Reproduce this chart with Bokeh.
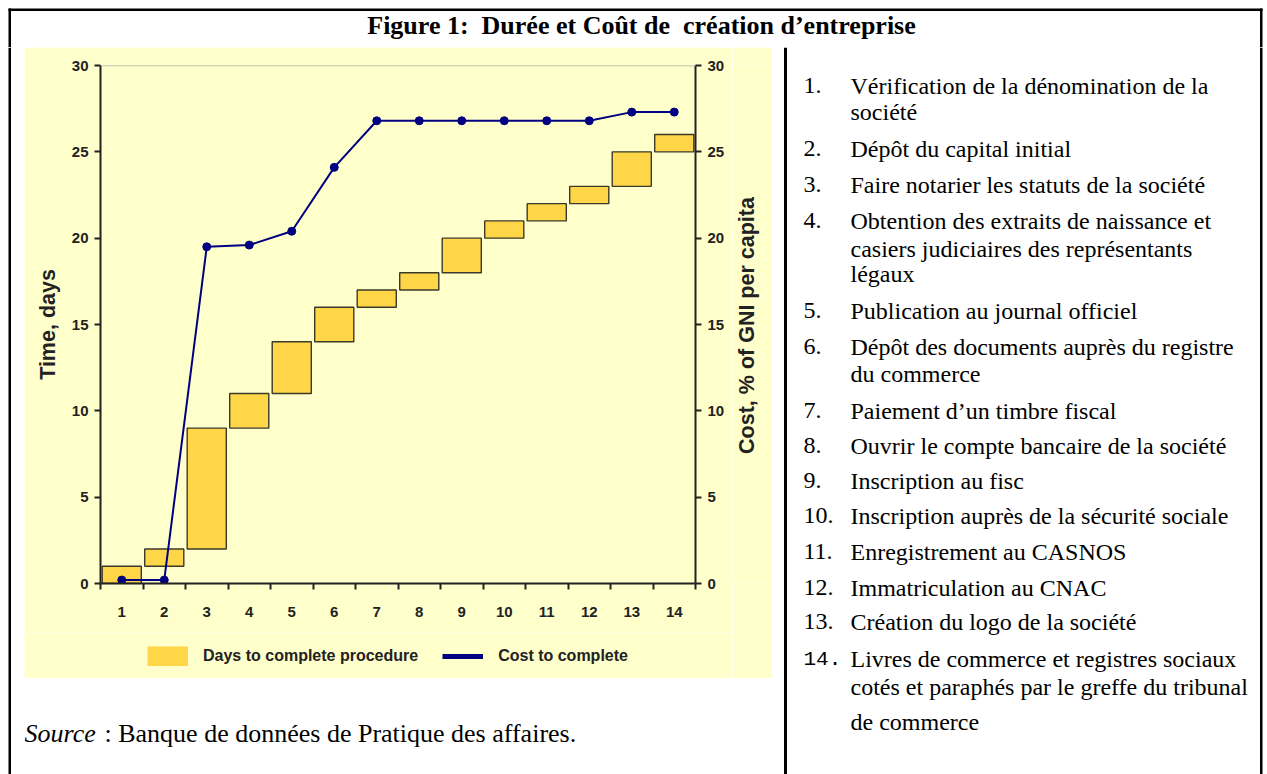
import math
from bokeh.plotting import figure
from bokeh.layouts import row, column
from bokeh.models import (Range1d, LinearAxis, Span, Legend, LegendItem, FixedTicker,
                          ColumnDataSource)
from bokeh.embed import file_html
from bokeh.resources import INLINE
from bokeh.core.properties import value

# ---------------- data ----------------
steps = list(range(1, 15))
step_labels = [str(s) for s in steps]
days_start = [0, 1, 2, 9, 11, 14, 16, 17, 18, 20, 21, 22, 23, 25]
days_end = [1, 2, 9, 11, 14, 16, 17, 18, 20, 21, 22, 23, 25, 26]
cost_pct = [0.2, 0.2, 19.5, 19.6, 20.4, 24.1, 26.8, 26.8, 26.8, 26.8, 26.8, 26.8, 27.3, 27.3]
y_ticks = [0, 5, 10, 15, 20, 25, 30]

title_text = "Figure 1:\u00a0 Durée et Coût de\u00a0 création d’entreprise"
y_left_label = "Time, days"
y_right_label = "Cost, % of GNI per capita"
legend_labels = ["Days to complete procedure", "Cost to complete"]
source_label = "Source"
source_text = ": Banque de données de Pratique des affaires."

procedure_numbers = [f"{s}." for s in steps]
procedure_lines = [
    ["Vérification de la dénomination de la", "société"],
    ["Dépôt du capital initial"],
    ["Faire notarier les statuts de la société"],
    ["Obtention des extraits de naissance et", "casiers judiciaires des représentants", "légaux"],
    ["Publication au journal officiel"],
    ["Dépôt des documents auprès du registre", "du commerce"],
    ["Paiement d’un timbre fiscal"],
    ["Ouvrir le compte bancaire de la société"],
    ["Inscription au fisc"],
    ["Inscription auprès de la sécurité sociale"],
    ["Enregistrement au CASNOS"],
    ["Immatriculation au CNAC"],
    ["Création du logo de la société"],
    ["Livres de commerce et registres sociaux", "cotés et paraphés par le greffe du tribunal", "de commerce"],
]

# ---------------- layout (page pixels) ----------------
PAGE_W, PAGE_H = 1267, 774
TOP_H = 47
LEFT_X = 24
CHART_X1 = 732
PANEL_X1 = 772
DIV_X = 783
LEG_Y0 = 632
CHART_Y1 = 678
FRAME_L, FRAME_R, FRAME_T, FRAME_B = 100, 695, 65, 583
BORDER_X0, BORDER_X1, BORDER_Y0 = 8, 1262, 8
BW = 2.5
TDY = 8   # glyph text baseline correction
line_baselines = [[93, 119], [156], [192], [228, 256, 281], [318], [354, 381], [418], [453],
                  [488], [523], [559], [595], [629], [666, 694, 729]]
MONO_NUMBERS = {"14."}

BAR_FILL = "#FFD648"
BAR_LINE = "#3a3a2a"
NAVY = "#000080"
PANEL = "#FFFFCC"
INK = "#222222"
AXIS_TITLE_SIZE = "21.5px"


def no_frame_align(f):
    try:
        f.frame_align = False
        return True
    except Exception:
        return False


def pixel_fig(x0, y0, x1, y1, bg="white", frame=None):
    """Figure whose data coordinates are page pixels (y stored negated)."""
    fx0, fy0, fx1, fy1 = frame if frame else (x0, y0, x1, y1)
    f = figure(width=x1 - x0, height=y1 - y0, x_range=Range1d(fx0, fx1),
               y_range=Range1d(-fy1, -fy0),
               output_backend="svg", toolbar_location=None,
               min_border_left=fx0 - x0, min_border_right=x1 - fx1,
               min_border_top=fy0 - y0, min_border_bottom=y1 - fy1,
               x_axis_location=None, y_axis_location=None,
               background_fill_color=bg, border_fill_color=bg, outline_line_color=None)
    f.grid.visible = False
    no_frame_align(f)
    return f


def black_box(f, x0, x1, y0, y1):
    f.quad(left=[x0], right=[x1], top=[-y0], bottom=[-y1], fill_color="black", line_color=None)


# ---------------- top strip: title ----------------
top = pixel_fig(0, 0, PAGE_W, TOP_H)
black_box(top, BORDER_X0, BORDER_X1, BORDER_Y0, BORDER_Y0 + BW)
black_box(top, BORDER_X0, BORDER_X0 + BW, BORDER_Y0, TOP_H)
black_box(top, BORDER_X1 - BW, BORDER_X1, BORDER_Y0, TOP_H)
top.text(x=[641], y=[-(33 - TDY)], text=[title_text], text_align="center",
         text_baseline="alphabetic", text_font=value("Liberation Serif"),
         text_font_style="bold", text_font_size="26px", text_color="black")

# ---------------- left white strip ----------------
strip_l = pixel_fig(0, TOP_H, LEFT_X, PAGE_H)
black_box(strip_l, BORDER_X0, BORDER_X0 + BW, TOP_H, PAGE_H)

# ---------------- chart ----------------
chart = figure(width=CHART_X1 - LEFT_X, height=LEG_Y0 - TOP_H,
               x_range=Range1d(steps[0] - 0.5, steps[-1] + 0.5), y_range=Range1d(0, 30),
               output_backend="svg", toolbar_location=None,
               min_border_left=FRAME_L - LEFT_X, min_border_right=CHART_X1 - FRAME_R,
               min_border_top=FRAME_T - TOP_H, min_border_bottom=LEG_Y0 - FRAME_B,
               background_fill_color=PANEL, border_fill_color=PANEL, outline_line_color=None)
chart.grid.visible = False
unaligned = no_frame_align(chart)
chart.extra_y_ranges = {"cost": Range1d(0, 30)}

chart.vbar(x=steps, bottom=days_start, top=days_end, width=0.92,
           fill_color=BAR_FILL, line_color=BAR_LINE, line_width=1.4)
chart.line(steps, cost_pct, line_color=NAVY, line_width=2, y_range_name="cost")
chart.scatter(steps, cost_pct, size=8, fill_color=NAVY, line_color=NAVY, y_range_name="cost")
chart.add_layout(Span(location=30, dimension="width", line_color="#b0b0a0", line_width=1.5))


def style_axis(ax):
    ax.axis_line_color = INK
    ax.axis_line_width = 2
    ax.major_tick_line_color = INK
    ax.major_tick_line_width = 2
    ax.minor_tick_line_color = INK
    ax.minor_tick_line_width = 2
    ax.major_tick_in = 0
    ax.minor_tick_in = 0
    ax.major_label_text_font = "Liberation Sans"
    ax.major_label_text_font_style = "bold"
    ax.major_label_text_font_size = "15px"
    ax.major_label_text_color = INK


yl = chart.yaxis[0]
yl.ticker = FixedTicker(ticks=y_ticks)
style_axis(yl)
yl.major_tick_out = 6
yl.minor_tick_out = 0
yl.major_label_standoff = 6
yl.axis_label = y_left_label
yl.axis_label_standoff = 9
yl.axis_label_text_font = "Liberation Sans"
yl.axis_label_text_font_style = "bold"
yl.axis_label_text_font_size = AXIS_TITLE_SIZE
yl.axis_label_text_color = INK

yr = LinearAxis(y_range_name="cost", ticker=FixedTicker(ticks=y_ticks))
style_axis(yr)
yr.major_tick_out = 6
yr.minor_tick_out = 0
yr.major_label_standoff = 6
chart.add_layout(yr, "right")

xa = chart.xaxis[0]
xa.ticker = FixedTicker(ticks=steps, minor_ticks=[s - 0.5 for s in steps] + [steps[-1] + 0.5])
style_axis(xa)
xa.major_tick_out = 0
xa.minor_tick_out = 6
xa.major_label_standoff = 17
xa.major_label_overrides = {s: l for s, l in zip(steps, step_labels)}

# ---------------- legend strip (yellow) ----------------
if unaligned:
    leg_frame = (LEFT_X, LEG_Y0, CHART_X1, CHART_Y1)
else:
    leg_frame = (FRAME_L, LEG_Y0, FRAME_R, CHART_Y1)
legfig = pixel_fig(LEFT_X, LEG_Y0, CHART_X1, CHART_Y1, bg=PANEL, frame=leg_frame)
# legend-only swatch renderers (degenerate, outside the visible range)
leg_bar = legfig.line(x=[0, 0], y=[0, 0], line_color=BAR_FILL, line_width=20, line_cap="butt")
leg_line = legfig.line(x=[0, 0], y=[0, 0], line_color=NAVY, line_width=5, line_cap="butt")
legend = Legend(items=[LegendItem(label=legend_labels[0], renderers=[leg_bar]),
                       LegendItem(label=legend_labels[1], renderers=[leg_line])],
                location=(147 - leg_frame[0], CHART_Y1 - 666), orientation="horizontal",
                glyph_width=41, glyph_height=20, label_standoff=15, spacing=24,
                padding=0, margin=0, border_line_color=None, background_fill_alpha=0,
                label_text_font="Liberation Sans", label_text_font_style="bold",
                label_text_font_size="16px", label_text_color=INK)
legfig.add_layout(legend)

# ---------------- right axis title (yellow strip) ----------------
rlab = pixel_fig(CHART_X1, TOP_H, PANEL_X1, CHART_Y1, bg=PANEL,
                 frame=(CHART_X1, FRAME_T, PANEL_X1, FRAME_B))
rlab.text(x=[754 - TDY], y=[-325], text=[y_right_label], angle=math.pi / 2,
          text_align="center", text_baseline="alphabetic",
          text_font=value("Liberation Sans"), text_font_style="bold",
          text_font_size=AXIS_TITLE_SIZE, text_color=INK)

# ---------------- source ----------------
src = pixel_fig(LEFT_X, CHART_Y1, PANEL_X1, PAGE_H)
src.text(x=[LEFT_X], y=[-(741 - TDY)], text=[source_label], text_align="left",
         text_baseline="alphabetic", text_font=value("Liberation Serif"),
         text_font_style="italic", text_font_size="26px", text_color="black")
src.text(x=[104], y=[-(741 - TDY)], text=[source_text], text_align="left",
         text_baseline="alphabetic", text_font=value("Liberation Serif"),
         text_font_size="26px", text_color="black")

# ---------------- white gap before divider ----------------
strip_r = pixel_fig(PANEL_X1, TOP_H, DIV_X, PAGE_H)

# ---------------- procedure list ----------------
right = pixel_fig(DIV_X, TOP_H, PAGE_W, PAGE_H)
black_box(right, DIV_X + 0.5, DIV_X + 3.5, TOP_H, PAGE_H)
black_box(right, BORDER_X1 - BW, BORDER_X1, TOP_H, PAGE_H)

nx, ny, nt, nf, ns = [], [], [], [], []
tx, ty, tt = [], [], []
for num, lines, ys in zip(procedure_numbers, procedure_lines, line_baselines):
    mono = num in MONO_NUMBERS
    nx.append(803)
    ny.append(-(ys[0] - TDY))
    nt.append(num)
    nf.append("Liberation Mono" if mono else "Liberation Serif")
    ns.append("21px" if mono else "24px")
    for ln, yy in zip(lines, ys):
        tx.append(850)
        ty.append(-(yy - TDY))
        tt.append(ln)

right.text(x="x", y="y", text="t", text_font="f", text_font_size="s",
           source=ColumnDataSource(dict(x=nx, y=ny, t=nt, f=nf, s=ns)),
           text_align="left", text_baseline="alphabetic", text_color="black")
right.text(x=tx, y=ty, text=tt, text_align="left", text_baseline="alphabetic",
           text_font=value("Liberation Serif"), text_font_size="24px", text_color="black")

# ---------------- assemble ----------------
left_block = column(row(column(chart, legfig), rlab), src)
middle = row(strip_l, left_block, strip_r, right)
page = column(top, middle)

open("out.html", "w").write(file_html(page, INLINE))
